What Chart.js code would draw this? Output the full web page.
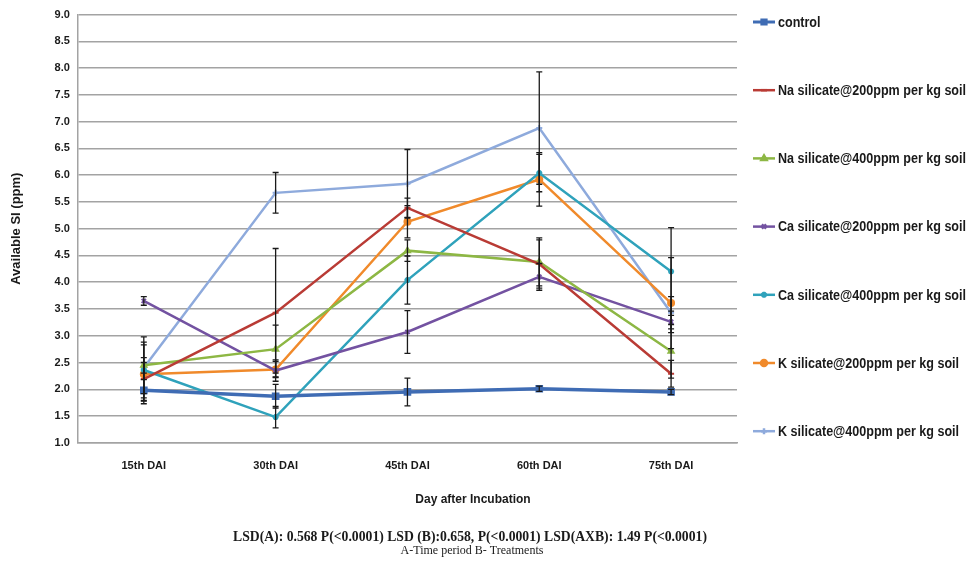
<!DOCTYPE html>
<html>
<head>
<meta charset="utf-8">
<script src="https://cdn.jsdelivr.net/npm/chart.js@4.4.1/dist/chart.umd.min.js"></script>
<style>
  html, body { margin: 0; padding: 0; background: #ffffff; }
  #wrap { width: 970px; height: 561px; }
</style>
</head>
<body>
<div id="wrap"><canvas id="c" width="970" height="561"></canvas></div>
<script>
// Sampling days
const categories = ['15th DAI', '30th DAI', '45th DAI', '60th DAI', '75th DAI'];

// Treatment names
const seriesNames = [
  'control',
  'Na silicate@200ppm per kg soil',
  'Na silicate@400ppm per kg soil',
  'Ca silicate@200ppm per kg soil',
  'Ca silicate@400ppm per kg soil',
  'K silicate@200ppm per kg soil',
  'K silicate@400ppm per kg soil'
];

// Mean available Si (ppm)
const control  = [1.98, 1.87, 1.95, 2.01, 1.95];
const na200    = [2.19, 3.43, 5.39, 4.34, 2.29];
const na400    = [2.45, 2.75, 4.59, 4.38, 2.71];
const ca200    = [3.65, 2.35, 3.07, 4.10, 3.26];
const ca400    = [2.36, 1.48, 4.04, 6.04, 4.20];
const k200     = [2.28, 2.37, 5.13, 5.92, 3.61];
const k400     = [2.40, 5.67, 5.84, 6.88, 3.43];

// Error bar half-widths (ppm)
const controlErr = [0.20, 0.22, 0.26, 0.05, 0.05];
const na200Err   = [0.40, 1.20, 0.18, 0.45, 0.25];
const na400Err   = [0.53, 0.45, 0.20, 0.45, 0.50];
const ca200Err   = [0.08, 0.20, 0.40, 0.25, 0.20];
const ca400Err   = [0.52, 0.20, 0.45, 0.35, 0.82];
const k200Err    = [0.55, 0.15, 0.30, 0.50, 0.85];
const k400Err    = [0.10, 0.38, 0.64, 1.05, 0.30];

// Y axis tick range
const yMin = 1.0, yMax = 9.0, yStep = 0.5;

// Axis titles and notes
const xTitle = 'Day after Incubation';
const yTitle = 'Available SI (ppm)';
const lsdNote = 'LSD(A): 0.568 P(<0.0001) LSD (B):0.658, P(<0.0001) LSD(AXB): 1.49 P(<0.0001)';
const keyNote = 'A-Time period B- Treatments';

const seriesValues = [control, na200, na400, ca200, ca400, k200, k400];
const seriesErrors = [controlErr, na200Err, na400Err, ca200Err, ca400Err, k200Err, k400Err];
const seriesColors = ['#3f6cb4', '#b93b35', '#8db744', '#7352a1', '#2fa2bb', '#f08a2b', '#8eaadc'];
const seriesMarkers = ['rect', 'line', 'triangle', 'crossRot', 'star', 'circle', 'cross'];
const seriesWidths = [3.5, 2.5, 2.5, 2.5, 2.5, 2.5, 2.5];

const SANS = "'Liberation Sans', Arial, sans-serif";
const SERIF = "'Liberation Serif', 'Times New Roman', serif";

const datasets = seriesNames.map((name, i) => ({
  label: name,
  data: seriesValues[i],
  borderColor: seriesColors[i],
  backgroundColor: seriesColors[i],
  borderWidth: seriesWidths[i],
  pointStyle: seriesMarkers[i],
  pointRadius: i === 0 ? 4 : 3,
  pointBorderWidth: 2,
  tension: 0,
  errors: seriesErrors[i]
}));

// Vertical error bars drawn through the value scale
const errorBars = {
  id: 'errorBars',
  afterDatasetsDraw(chart) {
    const ctx = chart.ctx;
    const y = chart.scales.y;
    ctx.save();
    ctx.strokeStyle = '#1a1a1a';
    ctx.lineWidth = 1.3;
    chart.data.datasets.forEach((ds, di) => {
      const meta = chart.getDatasetMeta(di);
      meta.data.forEach((pt, j) => {
        const v = ds.data[j], e = ds.errors[j];
        const yt = y.getPixelForValue(v + e);
        const yb = y.getPixelForValue(v - e);
        ctx.beginPath();
        ctx.moveTo(pt.x, yt); ctx.lineTo(pt.x, yb);
        ctx.moveTo(pt.x - 3, yt); ctx.lineTo(pt.x + 3, yt);
        ctx.moveTo(pt.x - 3, yb); ctx.lineTo(pt.x + 3, yb);
        ctx.stroke();
      });
    });
    ctx.restore();
  }
};

// Draws horizontally condensed text
function condensedText(ctx, text, x, y, sx) {
  ctx.save();
  ctx.translate(x, y);
  ctx.scale(sx, 1);
  ctx.fillText(text, 0, 0);
  ctx.restore();
}

// Legend column at the right: line sample with marker, then name
const sideLegend = {
  id: 'sideLegend',
  afterDraw(chart) {
    const ctx = chart.ctx;
    const x0 = 753, x1 = 775, top = 22, gap = 68.2;
    ctx.save();
    ctx.font = 'bold 14px ' + SANS;
    const longest = Math.max(...chart.data.datasets.map(d => ctx.measureText(d.label).width));
    const sx = 188 / longest;
    chart.data.datasets.forEach((ds, i) => {
      const yy = top + i * gap;
      ctx.strokeStyle = ds.borderColor;
      ctx.fillStyle = ds.borderColor;
      ctx.lineWidth = i === 0 ? 3 : 2.5;
      ctx.beginPath(); ctx.moveTo(x0, yy); ctx.lineTo(x1, yy); ctx.stroke();
      Chart.helpers.drawPoint(ctx, {
        pointStyle: ds.pointStyle, radius: 3, borderWidth: 2, rotation: 0
      }, (x0 + x1) / 2, yy);
      ctx.fillStyle = '#1a1a1a';
      ctx.textBaseline = 'middle';
      ctx.textAlign = 'left';
      condensedText(ctx, ds.label, x1 + 3, yy + 1, sx);
    });
    ctx.restore();
  }
};

// Category axis title and the statistics notes under the chart
const bottomNotes = {
  id: 'bottomNotes',
  afterDraw(chart) {
    const ctx = chart.ctx;
    ctx.save();
    ctx.fillStyle = '#1a1a1a';
    ctx.textAlign = 'center';
    ctx.textBaseline = 'middle';
    ctx.font = 'bold 12px ' + SANS;
    ctx.fillText(xTitle, 473, 500);
    ctx.font = 'bold 13.7px ' + SERIF;
    ctx.fillText(lsdNote, 470, 537);
    ctx.font = '12px ' + SERIF;
    ctx.fillText(keyNote, 472, 551);
    ctx.restore();
  }
};

new Chart(document.getElementById('c'), {
  type: 'line',
  data: { labels: categories, datasets },
  options: {
    responsive: false,
    animation: false,
    devicePixelRatio: 1,
    layout: { padding: { left: 9, right: 233, top: 3, bottom: 71 } },
    plugins: {
      legend: { display: false },
      tooltip: { enabled: false }
    },
    scales: {
      x: {
        offset: true,
        grid: { display: false, drawTicks: false },
        border: { display: true, color: '#a3a3a3', width: 1.5 },
        ticks: { color: '#1a1a1a', font: { family: SANS, size: 11, weight: 'bold' }, padding: 17 }
      },
      y: {
        min: yMin,
        max: yMax,
        ticks: {
          stepSize: yStep,
          color: '#1a1a1a',
          font: { family: SANS, size: 11, weight: 'bold' },
          padding: 8,
          callback: v => Number(v).toFixed(1)
        },
        grid: { color: '#a3a3a3', lineWidth: 1.5, drawTicks: false },
        border: { display: true, color: '#a3a3a3', width: 1.5 },
        title: {
          display: true,
          text: yTitle,
          color: '#1a1a1a',
          font: { family: SANS, size: 13, weight: 'bold' },
          padding: { top: 0, bottom: 22 }
        }
      }
    }
  },
  plugins: [errorBars, sideLegend, bottomNotes]
});
</script>
</body>
</html>
